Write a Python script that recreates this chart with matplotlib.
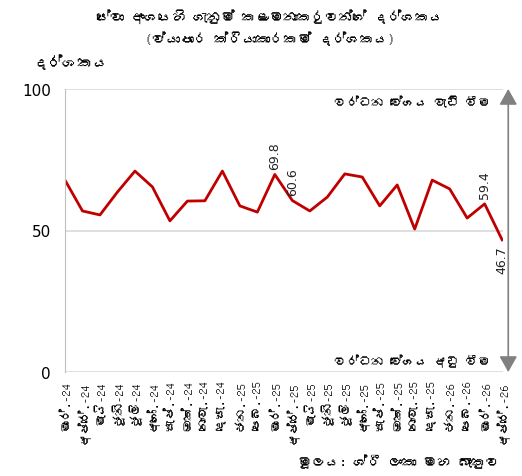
import matplotlib
matplotlib.use('Agg')
import matplotlib.pyplot as plt
from matplotlib import font_manager
from matplotlib.ft2font import FT2Font

# Sinhala akshara wala font ekak thiyenawada balanawa, nathnam DejaVu
def find_sinhala_font():
    for f in font_manager.fontManager.ttflist:
        try:
            if 0x0DC3 in FT2Font(f.fname).get_charmap():
                return f.name
        except Exception:
            continue
    return None

sin_font = find_sinhala_font()
families = [sin_font, 'DejaVu Sans'] if sin_font else ['DejaVu Sans']
plt.rcParams['font.family'] = families

# ---- DATA ----
months = ['මාර්.-24', 'අප්‍රේ.-24', 'මැයි-24', 'ජූනි-24', 'ජූලි-24', 'අගෝ.-24',
          'සැප්.-24', 'ඔක්.-24', 'නොවැ.-24', 'දෙසැ.-24', 'ජන.-25', 'පෙබ.-25',
          'මාර්.-25', 'අප්‍රේ.-25', 'මැයි-25', 'ජූනි-25', 'ජූලි-25', 'අගෝ.-25',
          'සැප්.-25', 'ඔක්.-25', 'නොවැ.-25', 'දෙසැ.-25', 'ජන.-26', 'පෙබ.-26',
          'මාර්.-26', 'අප්‍රේ.-26']
index_values = [67.8, 56.9, 55.5, 63.6, 71.0, 65.4, 53.4, 60.4, 60.5, 71.0,
                58.7, 56.5, 69.8, 60.6, 56.9, 61.8, 70.0, 68.9, 58.7, 66.1,
                50.5, 67.8, 64.7, 54.4, 59.4, 46.7]
labelled = {12: 'above', 13: 'above', 24: 'above', 25: 'below'}
y_ticks = [0, 50, 100]

title_text = 'සේවා අංශයෙහි ගැනුම් කළමනාකරුවන්ගේ දර්ශකය\n(ව්‍යාපාර ක්‍රියාකාරකම් දර්ශකය)'
y_label = 'දර්ශකය'
up_text = 'වර්ධන වේගය වැඩි වීම'
down_text = 'වර්ධන වේගය අඩු වීම'
source_text = 'මූලය: ශ්‍රී ලංකා මහ බැංකුව'


# matplotlib shaping karanne naha, ZWJ eka kotuwak widiyata pennanawa - eka ain karanawa
def clean(s):
    return s.replace('\u200d', '')


W, H = 522, 477
fig = plt.figure(figsize=(W / 100, H / 100), dpi=100)
# plot area pixel walin: left 65, right 503, top 90, bottom 373
ax = fig.add_axes([65 / W, 1 - 373 / H, (503 - 65) / W, (373 - 90) / H])

x = list(range(len(months)))
ax.plot(x, index_values, color='#C00000', linewidth=2)

for i, pos in labelled.items():
    v = index_values[i]
    off = 4 if pos == 'above' else -4
    ax.annotate(f'{v:.1f}', (i, v), xytext=(0, off), textcoords='offset points',
                rotation=90, ha='center', va='bottom' if pos == 'above' else 'top',
                fontsize=9, family='DejaVu Sans', color='#222222')

ax.set_xlim(0, len(months) - 1 + 0.05)
ax.set_ylim(0, 100)
ax.set_yticks(y_ticks)
ax.set_yticklabels([str(t) for t in y_ticks], fontsize=11, family='DejaVu Sans')
ax.set_xticks(x)
ax.set_xticklabels([clean(m) for m in months], rotation=90, fontsize=9)
ax.tick_params(axis='both', length=0, pad=6)
ax.tick_params(axis='y', pad=10)

for t in y_ticks:
    ax.axhline(t, color='#D9D9D9', linewidth=1.2, zorder=0)
for s in ['top', 'right', 'bottom']:
    ax.spines[s].set_visible(False)
ax.spines['left'].set_color('#BFBFBF')

# double arrow right side me
ax.annotate('', xy=(1.012, 1.01), xytext=(1.012, -0.01), xycoords='axes fraction',
            arrowprops=dict(arrowstyle='<|-|>,head_length=0.8,head_width=0.45',
                            color='#808080', lw=1.2, mutation_scale=12),
            annotation_clip=False)
ax.text(0.972, 0.955, clean(up_text), transform=ax.transAxes, ha='right', va='center', fontsize=9)
ax.text(0.972, 0.04, clean(down_text), transform=ax.transAxes, ha='right', va='center', fontsize=9)

fig.text(270 / W, 1 - 28 / H, clean(title_text), ha='center', va='center', fontsize=10,
         fontweight='bold', linespacing=1.6)
fig.text(70 / W, 1 - 62 / H, clean(y_label), ha='center', va='center', fontsize=11)
fig.text(500 / W, 1 - 462 / H, clean(source_text), ha='right', va='center', fontsize=10)

fig.savefig('out.png', dpi=100)
